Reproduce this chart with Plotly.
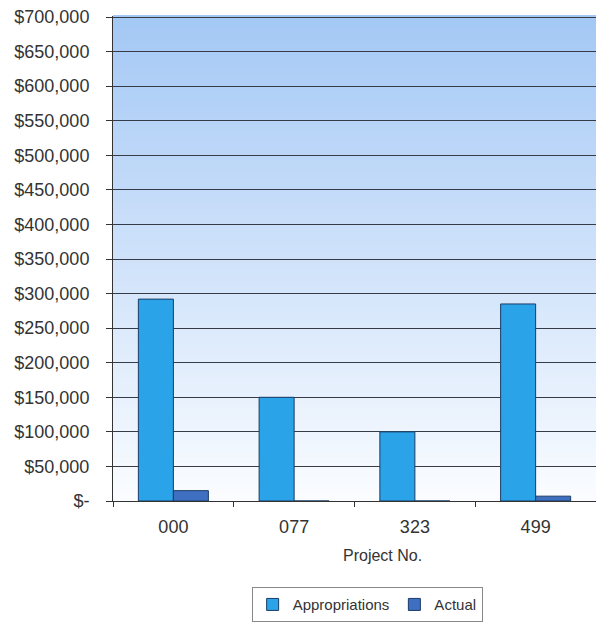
import plotly.graph_objects as go

projects = ["000", "077", "323", "499"]
appropriations = [292000, 150000, 100000, 285000]
actual = [15000, 0, 0, 7000]
y_tickvals = [0, 50000, 100000, 150000, 200000, 250000, 300000, 350000,
              400000, 450000, 500000, 550000, 600000, 650000, 700000]
y_ticktext = ["$-"] + ["${:,}".format(v) for v in y_tickvals[1:]]

FONT = "Liberation Sans, Arial, sans-serif"

fig = go.Figure()
fig.add_trace(go.Bar(
    name="Appropriations", x=projects, y=appropriations,
    marker=dict(color="#2AA3E8", line=dict(color="#1B3C66", width=1)),
))
fig.add_trace(go.Bar(
    name="Actual", x=projects, y=actual,
    marker=dict(color="#3E6FC0", line=dict(color="#1B3C66", width=1)),
))

# vertical gradient background (light blue at top fading to white)
n = 80
top = (164, 200, 245)
bot = (250, 252, 255)
shapes = []
for i in range(n):
    t = i / (n - 1)
    c = tuple(round(top[k] + (bot[k] - top[k]) * t) for k in range(3))
    y1 = 1 - i / n
    y0 = 1 - (i + 1) / n
    shapes.append(dict(type="rect", xref="paper", yref="paper", x0=0, x1=1,
                       y0=y0, y1=y1 + 0.002, layer="below",
                       fillcolor="rgb(%d,%d,%d)" % c, line=dict(width=0)))

fig.update_layout(
    width=596, height=624,
    margin=dict(l=113, r=0, t=16, b=123),
    paper_bgcolor="white", plot_bgcolor="white",
    barmode="group", bargap=0.42, bargroupgap=0,
    font=dict(family=FONT, size=18, color="#333333"),
    shapes=shapes,
    showlegend=True,
    legend=dict(orientation="h", xref="container", yref="container",
                x=0.616, xanchor="center", y=0.059, yanchor="top",
                bordercolor="#888888", borderwidth=1, bgcolor="white",
                font=dict(family=FONT, size=15, color="#333333"),
                itemwidth=30, traceorder="normal"),
    xaxis=dict(showgrid=False, showline=True, linecolor="#333333", linewidth=1,
               ticks="outside", tickson="boundaries", ticklen=5,
               tickcolor="#333333", ticklabelstandoff=9,
               tickfont=dict(size=18, color="#333333")),
    yaxis=dict(range=[0, 701500], tickvals=y_tickvals, ticktext=y_ticktext,
               showgrid=True, gridcolor="#353C48", gridwidth=1,
               showline=True, linecolor="#333333", linewidth=1,
               ticks="outside", ticklen=6, tickcolor="#333333",
               ticklabelstandoff=13, zeroline=False,
               ticklabeloverflow="allow",
               tickfont=dict(size=18, color="#333333")),
    annotations=[dict(text="Project No.", xref="paper", yref="paper",
                      x=0.558, y=-0.113, xanchor="center", yanchor="middle",
                      showarrow=False,
                      font=dict(family=FONT, size=16, color="#333333"))],
)

fig.write_html("out.html",
               config={"displayModeBar": False},
               post_script="document.body.style.margin='0';"
                           "document.documentElement.style.overflow='hidden';")
